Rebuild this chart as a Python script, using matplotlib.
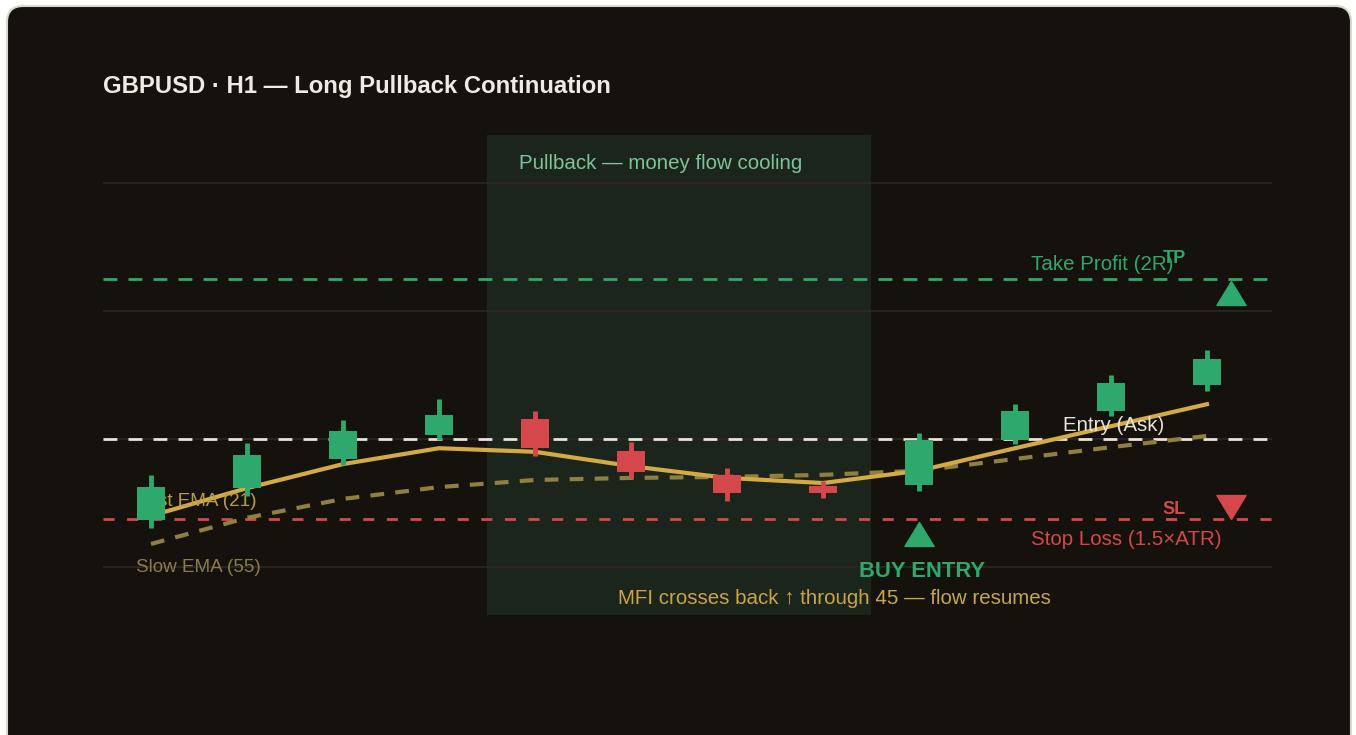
import numpy as np
import matplotlib.pyplot as plt
from matplotlib.patches import FancyBboxPatch, Rectangle
from matplotlib.path import Path

plt.rcParams['font.family'] = ['Liberation Sans', 'DejaVu Sans']

# Kerzen (H1), Index 0..11
opens = [1.26842, 1.26904, 1.26961, 1.27008, 1.27039, 1.26977, 1.26930, 1.26908, 1.26910, 1.26998, 1.27055, 1.27105]
highs = [1.26930, 1.26992, 1.27037, 1.27078, 1.27055, 1.26994, 1.26943, 1.26918, 1.27012, 1.27068, 1.27125, 1.27174]
lows = [1.26826, 1.26889, 1.26949, 1.26998, 1.26967, 1.26924, 1.26879, 1.26885, 1.26898, 1.26990, 1.27045, 1.27094]
closes = [1.26906, 1.26969, 1.27016, 1.27047, 1.26982, 1.26936, 1.26895, 1.26895, 1.26998, 1.27055, 1.27109, 1.27156]

fast_ema = [1.26850, 1.26904, 1.26951, 1.26982, 1.26975, 1.26947, 1.26924, 1.26914, 1.26938, 1.26982, 1.27025, 1.27068]
slow_ema = [1.26795, 1.26846, 1.26883, 1.26906, 1.26920, 1.26924, 1.26926, 1.26930, 1.26938, 1.26961, 1.26984, 1.27006]

entry_price = 1.27000
tp_price = 1.273125
sl_price = 1.2684375
grid_levels = [1.2675, 1.2700, 1.2725, 1.2750]

pullback_start, pullback_end = 3.5, 7.5
entry_idx = 8
buy_marker = 1.26814
tp_marker_x, tp_marker = 11.25, 1.27285
sl_marker = 1.26868

BG = '#15120e'
GREEN = '#2ea86c'
RED = '#d4484b'
GOLD = '#d4aa45'

fig = plt.figure(figsize=(13.56, 7.35), dpi=100)
fig.patch.set_facecolor('white')
panel = FancyBboxPatch((7 / 1356, -0.05), (1351 - 7) / 1356, (735 - 6) / 735 + 0.05,
                       boxstyle='round,pad=0,rounding_size=0.012',
                       transform=fig.transFigure, facecolor=BG,
                       edgecolor='#d9d6d0', linewidth=1.5, mutation_aspect=1356 / 735, zorder=-10)
fig.patches.append(panel)

ax = fig.add_axes([103 / 1356, 120 / 735, (1272 - 103) / 1356, 480 / 735])
ax.set_zorder(5)
ax.set_facecolor('none')
ax.set_xlim(-0.5, 11.677)
ax.set_ylim(1.2665625, 1.2759375)
for s in ax.spines.values():
    s.set_visible(False)
ax.set_xticks([])
ax.set_yticks([])

for g in grid_levels:
    ax.axhline(g, color='#2b2822', linewidth=1.2, zorder=1)

ax.add_patch(Rectangle((pullback_start, 1.2665625), pullback_end - pullback_start, 1.2759375 - 1.2665625,
                       facecolor='#1c251c', edgecolor='none', zorder=0.5))

ax.axhline(tp_price, color=GREEN, linewidth=2, dashes=(5, 4), zorder=2)
ax.axhline(entry_price, color='#e8e2d8', linewidth=2, dashes=(5, 4), zorder=2)
ax.axhline(sl_price, color=RED, linewidth=2, dashes=(4, 4.5), zorder=2)

x = np.arange(len(opens))
ax.plot(x, slow_ema, color='#8f8040', linewidth=3, dashes=(3.3, 2.7), zorder=3)
ax.plot(x, fast_ema, color=GOLD, linewidth=3, zorder=3)

# Kerzen
for i in range(len(opens)):
    col = GREEN if closes[i] >= opens[i] else RED
    ax.vlines(i, lows[i], highs[i], color=col, linewidth=3.5, zorder=5)
    lo, hi = min(opens[i], closes[i]), max(opens[i], closes[i])
    ax.add_patch(Rectangle((i - 0.15, lo), 0.3, hi - lo, facecolor=col, edgecolor='none', zorder=5))

tri_up = Path([(-1, -0.82), (1, -0.82), (0, 0.82), (-1, -0.82)], closed=True)
tri_dn = Path([(-1, 0.82), (1, 0.82), (0, -0.82), (-1, 0.82)], closed=True)
ax.plot([entry_idx], [buy_marker], marker=tri_up, markersize=21, color=GREEN, linestyle='none', zorder=6)
ax.plot([tp_marker_x], [tp_marker], marker=tri_up, markersize=21, color=GREEN, linestyle='none', zorder=6)
ax.plot([tp_marker_x], [sl_marker], marker=tri_dn, markersize=21, color=RED, linestyle='none', zorder=6)

# Texte
ax.text(3.83, 1.27539, 'Pullback — money flow cooling', color='#7cc49b', fontsize=14.8, ha='left', va='center', zorder=4)
ax.text(9.17, 1.27340, 'Take Profit (2R)', color=GREEN, fontsize=14.8, ha='left', va='center', zorder=4)
ax.text(10.66, 1.27352, 'TP', color=GREEN, fontsize=13, fontweight='bold', ha='center', va='center', zorder=4)
ax.text(9.5, 1.27027, 'Entry (Ask)', color='#e8e2d8', fontsize=14.8, ha='left', va='center', zorder=4)
ax.text(10.66, 1.26863, 'SL', color=RED, fontsize=13, fontweight='bold', ha='center', va='center', zorder=4)
ax.text(9.17, 1.26803, 'Stop Loss (1.5×ATR)', color=RED, fontsize=14.8, ha='left', va='center', zorder=4)
ax.text(8.03, 1.26742, 'BUY ENTRY', color=GREEN, fontsize=15.8, fontweight='bold', ha='center', va='center', zorder=4)
ax.text(7.12, 1.26689, 'MFI crosses back ↑ through 45 — flow resumes', color='#c9a646',
        fontsize=14.8, ha='center', va='center', zorder=4)
ax.text(-0.156, 1.26877, 'Fast EMA (21)', color='#b89c4c', fontsize=13.6, ha='left', va='center', zorder=4)
ax.text(-0.156, 1.26750, 'Slow EMA (55)', color='#8a7c4c', fontsize=13.6, ha='left', va='center', zorder=4)

fig.text(103 / 1356, 1 - 86 / 735, 'GBPUSD · H1 — Long Pullback Continuation', color='#f0ebe2',
         fontsize=17.2, fontweight='bold', ha='left', va='center')

fig.savefig('out.png', dpi=100, facecolor=fig.get_facecolor())
